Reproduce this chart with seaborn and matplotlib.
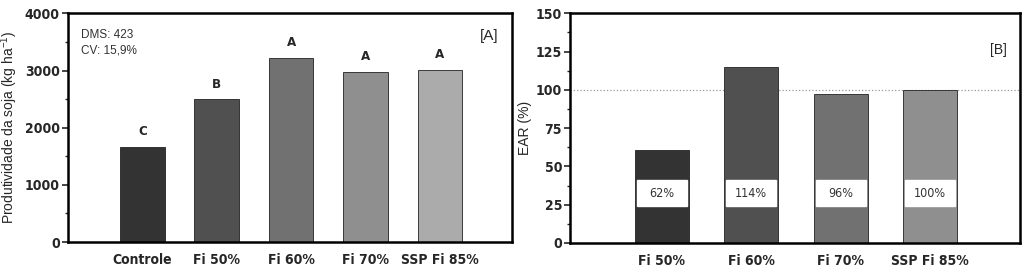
import numpy as np
import pandas as pd
import seaborn as sns
import matplotlib.pyplot as plt
from matplotlib.ticker import MultipleLocator

# Panel A - soybean yield
trat_a = ["Controle", "Fi 50%", "Fi 60%", "Fi 70%", "SSP Fi 85%"]
prod = [1670, 2500, 3220, 2980, 3010]
letras = ["C", "B", "A", "A", "A"]
cores_a = ["#333333", "#505050", "#717171", "#8f8f8f", "#ababab"]

# Panel B - relative agronomic efficiency
trat_b = ["Fi 50%", "Fi 60%", "Fi 70%", "SSP Fi 85%"]
ear = [61, 115, 97, 100]
ear_lab = ["62%", "114%", "96%", "100%"]
cores_b = ["#333333", "#505050", "#717171", "#8f8f8f"]

sns.set_theme(style="ticks")
plt.rcParams['font.family'] = ['DejaVu Sans']
plt.rcParams['mathtext.default'] = 'regular'
narrow = dict(family="DejaVu Sans", stretch="condensed", weight="bold")

fig = plt.figure(figsize=(10.24, 2.72), dpi=100)
ax1 = fig.add_axes([0.0664, 0.110, 0.4336, 0.841])
ax2 = fig.add_axes([0.557, 0.107, 0.439, 0.844])

df_a = pd.DataFrame({"trat": trat_a, "prod": prod})
sns.barplot(data=df_a, x="trat", y="prod", hue="trat", palette=cores_a,
            legend=False, width=0.6, edgecolor="#222222", linewidth=0.6, ax=ax1)
for i, (v, l) in enumerate(zip(prod, letras)):
    ax1.text(i, v + 150, l, ha="center", va="bottom", fontsize=9.5, **narrow)
ax1.set_xlim(-1.0, 4.97)
ax1.set_ylim(0, 4000)
ax1.yaxis.set_major_locator(MultipleLocator(1000))
ax1.yaxis.set_minor_locator(MultipleLocator(500))
ax1.set_xlabel("")
ax1.set_ylabel("Produtividade da soja (kg ha$^{-1}$)", fontsize=10, family="Liberation Sans",
               labelpad=3)
ax1.text(0.03, 0.93, "DMS: 423\nCV: 15,9%", transform=ax1.transAxes, ha="left", va="top",
         fontsize=8.5, family="Liberation Sans", color="#333333", linespacing=1.3)
ax1.text(0.97, 0.93, "[A]", transform=ax1.transAxes, ha="right", va="top", fontsize=11,
         family="Liberation Sans")

df_b = pd.DataFrame({"trat": trat_b, "ear": ear})
sns.barplot(data=df_b, x="trat", y="ear", hue="trat", palette=cores_b,
            legend=False, width=0.6, edgecolor="#222222", linewidth=0.6, ax=ax2)
ax2.axhline(100, color="#999999", linestyle=":", linewidth=0.9, zorder=0)
for i, l in enumerate(ear_lab):
    ax2.bar(i, 17, bottom=24, width=0.56, color="white", zorder=3)
    ax2.text(i, 32.5, l, ha="center", va="center", fontsize=9, family="DejaVu Sans",
             stretch="condensed", color="#333333", zorder=4)
ax2.set_xlim(-1.02, 4.0)
ax2.set_ylim(0, 150)
ax2.yaxis.set_major_locator(MultipleLocator(25))
ax2.yaxis.set_minor_locator(MultipleLocator(12.5))
ax2.set_xlabel("")
ax2.set_ylabel("EAR (%)", fontsize=10, family="Liberation Sans", labelpad=3)
ax2.text(0.97, 0.87, "[B]", transform=ax2.transAxes, ha="right", va="top", fontsize=10,
         family="Liberation Sans")

for ax in (ax1, ax2):
    for s in ax.spines.values():
        s.set_linewidth(1.8)
        s.set_color("black")
    ax.tick_params(axis="both", which="major", length=4, width=1.2, labelsize=10, pad=2)
    ax.tick_params(axis="y", which="minor", length=2, width=1)
    ax.tick_params(axis="x", length=0, pad=8)
    for lab in ax.get_xticklabels() + ax.get_yticklabels():
        lab.set_fontfamily("DejaVu Sans")
        lab.set_fontstretch("condensed")
        lab.set_fontweight("bold")

fig.savefig("out.png", dpi=100)
